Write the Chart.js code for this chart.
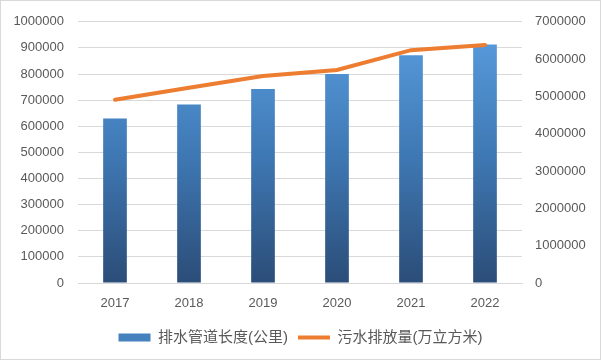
<!DOCTYPE html>
<html>
<head>
<meta charset="utf-8">
<script src="https://cdn.jsdelivr.net/npm/chart.js@4"></script>
<style>
  html, body { margin: 0; padding: 0; background: #fff; }
  #wrap { width: 601px; height: 360px; position: relative; }
</style>
</head>
<body>
<div id="wrap"><canvas id="chart1" width="601" height="360"></canvas></div>
<script>
const years = ['2017', '2018', '2019', '2020', '2021', '2022'];
const pipeLength = [630000, 683000, 743000, 800000, 872000, 913000];
const sewage = [4910000, 5230000, 5550000, 5710000, 6240000, 6380000];
const leftTicks = [0, 1000000, 100000];
const rightTicks = [0, 7000000, 1000000];

function barGradient(context) {
    const chart = context.chart;
    const area = chart.chartArea;
    if (!area) return '#4a86c5';
    const g = chart.ctx.createLinearGradient(0, area.top, 0, area.bottom);
    g.addColorStop(0, '#5a9ee0');
    g.addColorStop(0.5, '#3f79b5');
    g.addColorStop(1, '#2b4d78');
    return g;
}

const framePlugin = {
    id: 'frame',
    afterDraw(chart) {
        const ctx = chart.ctx;
        ctx.save();
        ctx.strokeStyle = '#d9d9d9';
        ctx.lineWidth = 1;
        ctx.strokeRect(0.5, 0.5, chart.width - 1, chart.height - 1);
        ctx.restore();
    }
};

const tickFont = { family: 'Liberation Sans', size: 13 };

var ctx = document.getElementById('chart1').getContext('2d');
var myChart = new Chart(ctx, {
    type: 'bar',
    data: {
        labels: years,
        datasets: [{
            label: '排水管道长度(公里)',
            data: pipeLength,
            backgroundColor: barGradient,
            borderWidth: 0,
            barPercentage: 0.32,
            categoryPercentage: 1,
            pointStyle: 'rect',
            yAxisID: 'y',
            order: 1
        }, {
            type: 'line',
            label: '污水排放量(万立方米)',
            data: sewage,
            borderColor: '#ed7d31',
            backgroundColor: '#ed7d31',
            borderWidth: 4,
            borderCapStyle: 'round',
            pointRadius: 0,
            pointStyle: 'line',
            tension: 0,
            yAxisID: 'y1',
            order: 0
        }]
    },
    options: {
        responsive: false,
        animation: false,
        layout: { padding: { top: 16, left: 0, right: 0, bottom: 5 } },
        plugins: {
            tooltip: { enabled: false },
            legend: {
                position: 'bottom',
                labels: {
                    usePointStyle: true,
                    pointStyleWidth: 32,
                    boxHeight: 8,
                    padding: 10,
                    color: '#595959',
                    font: { family: 'Liberation Sans, Noto Sans CJK SC', size: 15 },
                    sort: (a, b) => a.datasetIndex - b.datasetIndex,
                    generateLabels: function (chart) {
                        const items = Chart.defaults.plugins.legend.labels.generateLabels(chart);
                        items.forEach(function (item) {
                            if (item.datasetIndex === 0) {
                                item.fillStyle = '#4580bf';
                                item.lineWidth = 0;
                            } else {
                                item.lineWidth = 4;
                                item.strokeStyle = '#ed7d31';
                            }
                        });
                        return items;
                    }
                }
            }
        },
        scales: {
            x: {
                grid: { display: false, drawTicks: false },
                border: { color: '#d9d9d9' },
                ticks: { color: '#595959', padding: 13, font: tickFont },
                afterFit: function (axis) { axis.height = 37; }
            },
            y: {
                position: 'left',
                min: leftTicks[0],
                max: leftTicks[1],
                grid: { color: '#d9d9d9', drawTicks: false },
                border: { display: false },
                ticks: {
                    stepSize: leftTicks[2], color: '#595959', padding: 14, font: tickFont,
                    callback: function (value) { return value; }
                },
                afterFit: function (axis) { axis.width = 78; }
            },
            y1: {
                position: 'right',
                min: rightTicks[0],
                max: rightTicks[1],
                grid: { display: false, drawTicks: false },
                border: { display: false },
                ticks: {
                    stepSize: rightTicks[2], color: '#595959', padding: 13, font: tickFont,
                    callback: function (value) { return value; }
                },
                afterFit: function (axis) { axis.width = 79; }
            }
        }
    },
    plugins: [framePlugin]
});
</script>
</body>
</html>
